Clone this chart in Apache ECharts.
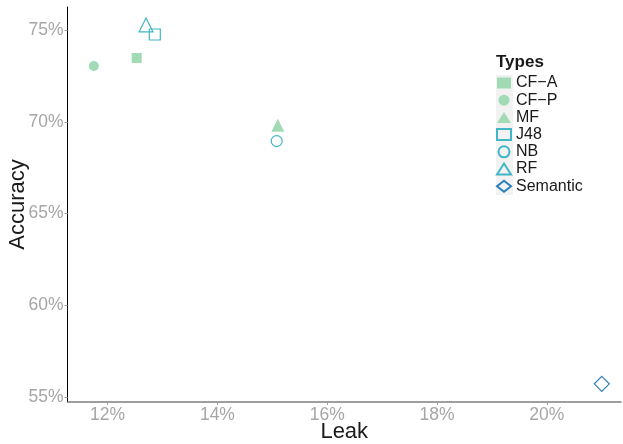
<!DOCTYPE html>
<html>
<head>
<meta charset="utf-8">
<script src="https://cdn.jsdelivr.net/npm/echarts@6/dist/echarts.min.js"></script>
<style>html,body{margin:0;padding:0;background:#fff;}#c{width:623px;height:444px;}</style>
</head>
<body>
<div id="c"></div>
<script>
// Data
const types = ['CF\u2212A', 'CF\u2212P', 'MF', 'J48', 'NB', 'RF', 'Semantic'];
const leak = [12.53, 11.75, 15.10, 12.86, 15.08, 12.70, 21.00];       // %
const accuracy = [73.49, 73.05, 69.82, 74.77, 68.96, 75.29, 55.72];  // %
const xTicks = [12, 14, 16, 18, 20];
const yTicks = [55, 60, 65, 70, 75];

const styles = [
  { symbol: 'rect', size: 10, fill: '#a1dab4', stroke: null },
  { symbol: 'circle', size: 10, fill: '#a1dab4', stroke: null },
  { symbol: 'triangle', size: 13, fill: '#a1dab4', stroke: null },
  { symbol: 'rect', size: 11, fill: '#ffffff', stroke: '#41b6c4' },
  { symbol: 'circle', size: 11, fill: '#ffffff', stroke: '#41b6c4' },
  { symbol: 'triangle', size: 14, fill: '#ffffff', stroke: '#41b6c4' },
  { symbol: 'diamond', size: 15, fill: '#ffffff', stroke: '#2c7fb8' }
];

const series = types.map((t, i) => ({
  name: t,
  type: 'scatter',
  symbol: styles[i].symbol,
  symbolSize: styles[i].size,
  itemStyle: styles[i].stroke
    ? { color: 'rgba(255,255,255,0)', borderColor: styles[i].stroke, borderWidth: 1.2, opacity: 1 }
    : { color: styles[i].fill, opacity: 1 },
  emphasis: { disabled: true },
  data: [[leak[i], accuracy[i]]]
}));

const chart = echarts.init(document.getElementById('c'), null, { renderer: 'canvas' });
const gray = '#a6a6a6';
chart.setOption({
  animation: false,
  backgroundColor: '#ffffff',
  textStyle: { fontFamily: 'Liberation Sans, Arial, sans-serif' },
  grid: { left: 67.5, right: 2, top: 7, bottom: 42, containLabel: false, outerBoundsMode: 'none' },
  title: {
    text: 'Types', left: 496, top: 54, padding: 0,
    textStyle: { fontSize: 17, fontWeight: 'bold', color: '#1a1a1a', fontFamily: 'Liberation Sans, Arial, sans-serif' }
  },
  graphic: [{
    type: 'rect', z: -1, silent: true,
    shape: { x: 496, y: 75, width: 17, height: 120 },
    style: { fill: '#f2f2f2' }
  }],
  legend: {
    orient: 'vertical', left: 496, top: 75,
    itemWidth: 14, itemHeight: 11, itemGap: 1.2,
    padding: 0,
    selectedMode: false,
    textStyle: { fontSize: 16, color: '#1a1a1a', lineHeight: 16, fontFamily: 'Liberation Sans, Arial, sans-serif' },
    data: types
  },
  xAxis: {
    type: 'value', min: 11.27, max: 21.35,
    name: 'Leak', nameLocation: 'middle', nameGap: 19, nameMoveOverlap: false,
    nameTextStyle: { fontSize: 22, color: '#1a1a1a', verticalAlign: 'top' },
    splitLine: { show: false },
    axisLine: { show: true, onZero: false, lineStyle: { color: '#7f7f7f', width: 1.5 } },
    axisTick: { show: true, length: 3, lineStyle: { color: '#a0a0a0' }, customValues: xTicks },
    axisLabel: { fontSize: 17.5, color: gray, margin: 4, formatter: '{value}%', customValues: xTicks }
  },
  yAxis: {
    type: 'value', min: 54.73, max: 76.27,
    name: 'Accuracy', nameLocation: 'middle', nameGap: 38.5, nameMoveOverlap: false,
    nameTextStyle: { fontSize: 22, color: '#1a1a1a' },
    splitLine: { show: false },
    axisLine: { show: true, onZero: false, lineStyle: { color: '#000000', width: 1 } },
    axisTick: { show: true, length: 3, lineStyle: { color: '#a0a0a0' }, customValues: yTicks },
    axisLabel: { fontSize: 17.5, color: gray, margin: 4, formatter: '{value}%', customValues: yTicks }
  },
  series: series
});
</script>
</body>
</html>
